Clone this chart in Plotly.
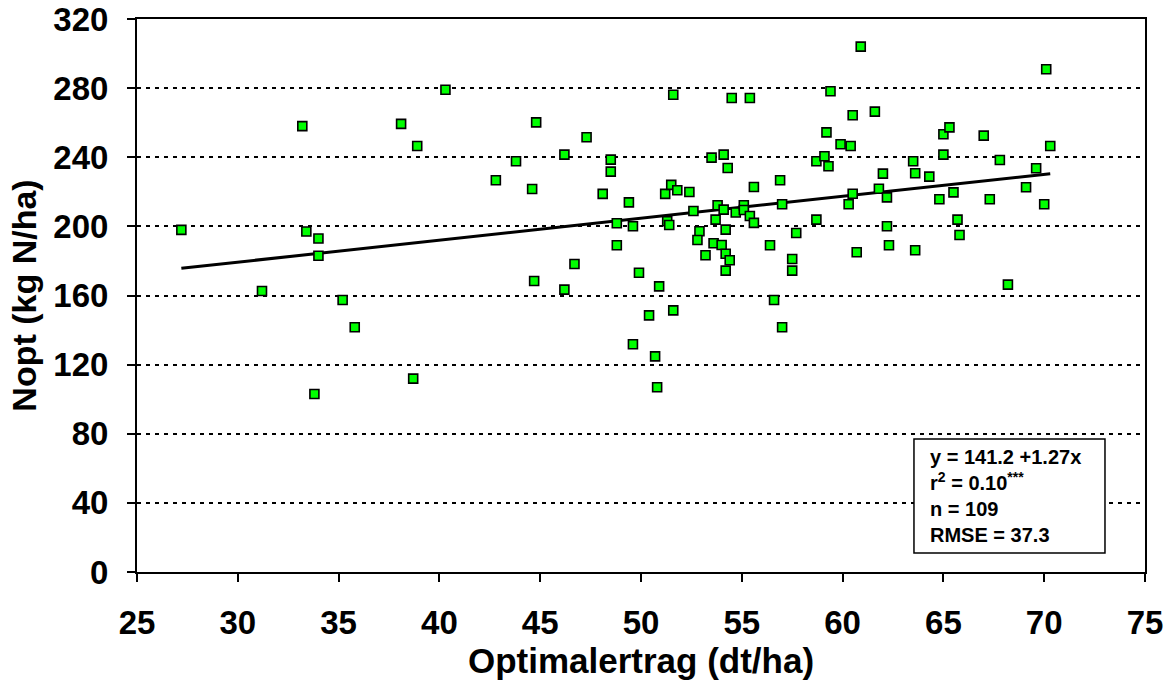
import plotly.graph_objects as go

# Optimalertrag (dt/ha)
x_vals = [27.2, 33.2, 33.4, 34.0, 34.0, 31.2, 35.2, 38.1, 38.9, 40.3, 35.8, 33.8, 38.7,
          42.8, 43.8, 44.6, 44.8, 44.7, 46.2, 46.2, 46.7, 47.3, 48.1, 48.5, 48.5, 48.8, 48.8,
          49.4, 49.6, 49.9, 50.9, 51.2, 51.5, 51.8, 51.3, 51.4, 51.6, 51.6, 52.4, 52.6, 52.9,
          52.8, 53.2, 53.5, 54.1, 54.3, 54.5, 55.4, 53.8, 54.1, 53.7, 54.2, 53.6, 54.0, 54.2,
          54.4, 54.2, 54.7, 55.1, 55.1, 55.4, 55.6, 55.6, 56.4, 56.6, 56.9, 57.0, 57.7, 57.5,
          57.5, 58.7, 58.7, 50.4, 49.6, 50.7, 50.8, 57.0, 60.9, 70.1, 59.4, 60.5, 61.6, 59.2,
          59.9, 60.4, 59.1, 59.3, 62.0, 60.5, 60.3, 61.8, 62.2, 62.2, 60.7, 62.3, 63.5, 63.6,
          64.3, 63.6, 65.0, 65.3, 65.0, 64.8, 65.5, 65.7, 65.8, 67.0, 67.8, 67.3, 68.2, 69.1,
          69.6, 70.0, 70.3]
# Nopt (kg N/ha)
y_vals = [198, 258, 197, 193, 183, 162.6, 157.4, 259.3, 246.5, 279.1, 141.6, 103, 111.9,
          226.7, 237.7, 221.6, 260.2, 168.4, 163.4, 241.5, 178.2, 251.6, 218.8, 238.6, 231.7, 201.8, 189.1,
          213.9, 200.1, 173.2, 165.3, 218.8, 224, 220.9, 203, 200.8, 276.2, 151.4, 219.9, 208.9, 197.2,
          192.1, 183.3, 239.8, 241.5, 233.8, 274.3, 274.3, 212.2, 209.7, 203.9, 198.1, 190.2, 189.2, 184.2,
          180.4, 174.4, 208, 212.2, 209.5, 206, 202, 222.8, 189.1, 157.4, 226.7, 212.8, 196.2, 181.1,
          174.4, 237.7, 203.9, 148.5, 131.8, 124.8, 106.9, 141.6, 304, 290.9, 278.2, 264.3, 266.4, 254.4,
          247.5, 246.5, 240.6, 234.8, 230.5, 218.9, 212.8, 221.8, 216.8, 200.1, 185, 189.1, 237.7, 230.7,
          228.8, 186.2, 253.3, 257.3, 241.5, 215.7, 219.7, 203.9, 195, 252.5, 238.4, 215.7, 166.3, 222.6,
          233.6, 212.8, 246.5]

# regression: y = intercept + slope * x
intercept = 141.2
slope = 1.27
stats_lines = ["y = 141.2 +1.27x",
               "r<sup>2</sup> = 0.10<sup>***</sup>",
               "n = 109",
               "RMSE = 37.3"]

x_ticks = [25, 30, 35, 40, 45, 50, 55, 60, 65, 70, 75]
y_ticks = [0, 40, 80, 120, 160, 200, 240, 280, 320]

FONT = "Liberation Sans, Arial, sans-serif"

line_x = [min(x_vals), max(x_vals)]
line_y = [intercept + slope * v for v in line_x]

fig = go.Figure()
fig.add_trace(go.Scatter(
    x=line_x, y=line_y, mode="lines",
    line=dict(color="black", width=3), showlegend=False, hoverinfo="skip"))
fig.add_trace(go.Scatter(
    x=x_vals, y=y_vals, mode="markers",
    marker=dict(symbol="square", size=9, color="#00FF00",
                line=dict(color="black", width=1.6)),
    showlegend=False))

fig.update_layout(
    width=1173, height=688,
    margin=dict(l=137, r=28, t=19, b=116, autoexpand=False),
    paper_bgcolor="white", plot_bgcolor="white",
    font=dict(family=FONT, color="black", size=32, weight="bold"),
    showlegend=False,
)

fig.update_xaxes(
    range=[25, 75], tickvals=x_ticks, ticktext=[str(v) for v in x_ticks],
    showgrid=False, zeroline=False,
    showline=True, linecolor="black", linewidth=2, mirror=True,
    ticks="outside", ticklen=8, tickwidth=1.5, tickcolor="black",
    tickfont=dict(family=FONT, size=33, color="black", weight="bold"),
    ticklabelstandoff=12,
    title=dict(text="Optimalertrag (dt/ha)", standoff=4,
               font=dict(family=FONT, size=35, color="black", weight="bold")),
    automargin=False,
)
fig.update_yaxes(
    range=[0, 320], tickvals=y_ticks, ticktext=[str(v) for v in y_ticks],
    showgrid=True, gridcolor="black", gridwidth=2, griddash="4px,5px",
    zeroline=False,
    showline=True, linecolor="black", linewidth=2, mirror=True,
    ticks="outside", ticklen=8, tickwidth=1.5, tickcolor="black",
    tickfont=dict(family=FONT, size=33, color="black", weight="bold"),
    ticklabelstandoff=12,
    title=dict(text="Nopt (kg N/ha)", standoff=6,
               font=dict(family=FONT, size=34, color="black", weight="bold")),
    automargin=False,
)

# statistics box
fig.add_shape(type="rect", xref="paper", yref="paper",
              x0=0.7708, x1=0.9603, y0=0.0344, y1=0.2405,
              line=dict(color="black", width=1.5), fillcolor="white", layer="above")
fig.add_annotation(xref="paper", yref="paper", x=0.7847, y=0.1375,
                   text="<br>".join(stats_lines), showarrow=False,
                   xanchor="left", yanchor="middle", align="left",
                   font=dict(family=FONT, size=20, color="black", weight="bold"))

fig.write_html("out.html")
